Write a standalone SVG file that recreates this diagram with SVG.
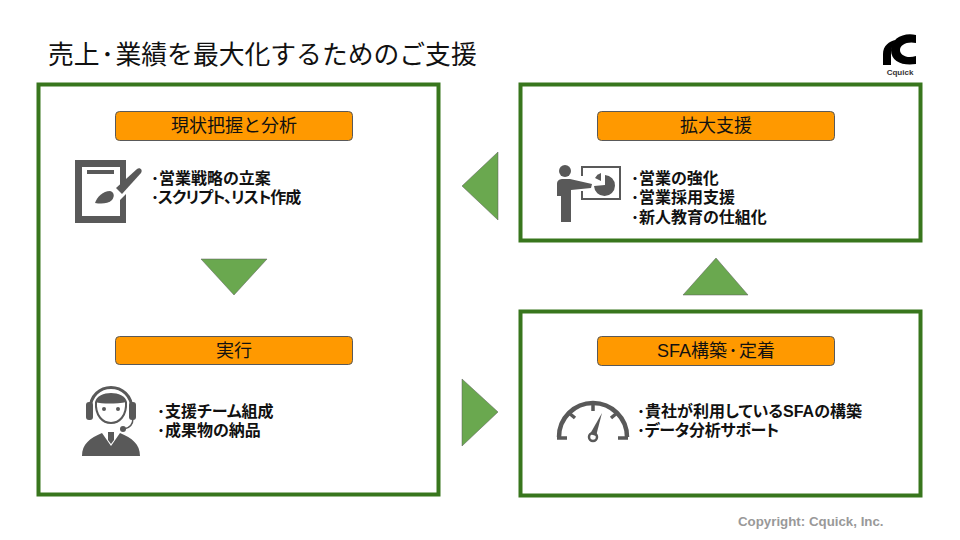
<svg xmlns="http://www.w3.org/2000/svg" width="960" height="540" viewBox="0 0 960 540">
<style>
text{font-family:"Liberation Sans","Noto Sans CJK JP",sans-serif;fill:#111}
.frame{fill:#fff;stroke:#38761d;stroke-width:4}
.hd{fill:#ff9900;stroke:#595959;stroke-width:1}
.hdt{font-size:18px;text-anchor:middle}
.b{font-size:16px;font-weight:700;font-feature-settings:"palt"}
.tri{fill:#6aa84f;stroke:#595959;stroke-width:.5}
.ic{fill:#595959}
.icl{fill:none;stroke:#595959}
</style>
<rect width="960" height="540" fill="#fff"/>
<text id="title" x="48" y="64" font-size="25.800">売上<tspan dx="1.500">･</tspan><tspan dx="1.500">業績を最大化するためのご支援</tspan></text>
<g id="logo">
<path d="M883 65V54C883 46 889 41 896 40C892 44 891 50 891 56V65Z" fill="#000"/>
<path d="M916 35V43C907 41 900 45 900 50C900 55 907 59 916 56V64C903 66 891 62 891 50C891 39 903 32 916 35Z" fill="#000"/>
<text x="900" y="75" font-size="8" font-weight="700" text-anchor="middle" style="fill:#333">Cquick</text>
</g>
<g id="frames">
<rect id="box-left" class="frame" x="38.500" y="84.500" width="400" height="410"/>
<rect id="box-top" class="frame" x="520.500" y="84.500" width="400" height="156"/>
<rect id="box-bottom" class="frame" x="520.500" y="311.500" width="400" height="184"/>
</g>
<g id="connectors">
<polygon class="tri" points="201,259 267,259 234,295"/>
<polygon class="tri" points="498,152 498,220 462,186"/>
<polygon class="tri" points="683,295 748,295 716,258"/>
<polygon class="tri" points="462,379 462,446 498,412"/>
</g>
<g id="node-analysis">
<rect class="hd" x="115.500" y="111.500" width="237" height="29" rx="4"/>
<text class="hdt" x="234" y="132">現状把握と分析</text>
<path class="ic" fill-rule="evenodd" d="M75 160H126V181L120 187V167H82V216H120V200L126 194V223H75Z"/>
<rect class="ic" x="87" y="170" width="27" height="4"/>
<path class="ic" d="M116 188L137 169C140 167 143 170 141 173L122 194Z"/>
<path class="ic" d="M95 203C97 197 103 191 110 191C114 192 115 196 112 200C108 204 101 204 95 203Z"/>
<text class="b" x="151" y="184">･営業戦略の立案</text>
<text class="b" x="151" y="203" letter-spacing="-1">･スクリプト、リスト作成</text>
</g>
<g id="node-execute">
<rect class="hd" x="115.500" y="336.500" width="237" height="28" rx="4"/>
<text class="hdt" x="234" y="357">実行</text>
<path class="icl" stroke-width="3" d="M90 410C90 380 132 380 132 410"/>
<rect class="ic" x="86" y="402" width="7" height="18" rx="3"/>
<rect class="ic" x="129" y="402" width="7" height="18" rx="3"/>
<path class="ic" d="M95 402C98 390 124 390 127 402C115 404 103 404 95 402Z"/>
<path class="icl" stroke-width="2" d="M96 402C94 430 128 430 126 402"/>
<circle class="ic" cx="104" cy="409" r="2"/>
<circle class="ic" cx="118" cy="409" r="2"/>
<path class="icl" stroke-width="1.500" d="M133 418C133 425 130 428 124 429"/>
<circle class="ic" cx="123" cy="429" r="3"/>
<path class="ic" d="M82 456C82 444 90 438 102 433L111 446L120 433C132 438 140 444 140 456Z"/>
<path class="ic" d="M108 432H114V440L111 444L108 440Z"/>
<text class="b" x="157" y="417">･支援チーム組成</text>
<text class="b" x="157" y="436">･成果物の納品</text>
</g>
<g id="node-expand">
<rect class="hd" x="597.500" y="111.500" width="237" height="29" rx="4"/>
<text class="hdt" x="716" y="132">拡大支援</text>
<circle class="ic" cx="565" cy="171" r="6"/>
<path class="ic" d="M557 184C557 180 560 179 563 179H570L592 184L591 188L571 190V222H561V196H557Z"/>
<path class="icl" stroke-width="2" d="M582 176V167H620V199H582V191"/>
<path class="ic" d="M605 175A10.500 10.500 0 1 1 594 186L605 185Z"/>
<path class="ic" d="M601 173A10 10 0 0 0 595 178L601 181Z"/>
<text class="b" x="631" y="184">･営業の強化</text>
<text class="b" x="631" y="203">･営業採用支援</text>
<text class="b" x="631" y="223">･新人教育の仕組化</text>
</g>
<g id="node-sfa">
<rect class="hd" x="597.500" y="336.500" width="237" height="29" rx="4"/>
<text class="hdt" x="716" y="357">SFA構築<tspan dx="1.500">･</tspan><tspan dx="1.500">定着</tspan></text>
<path class="icl" stroke-width="4.500" d="M559 437A34 34 0 0 1 627 437"/>
<path class="icl" stroke-width="3.500" d="M557 438H567M618 438H628M593 403V411M569 413L575 418M617 413L611 418"/>
<circle class="icl" stroke-width="2.500" cx="593" cy="437" r="4"/>
<path class="ic" d="M590 434L602 413L596 436Z"/>
<text class="b" x="637" y="417">･貴社が利用しているSFAの構築</text>
<text class="b" x="637" y="436" letter-spacing="-.3">･データ分析サポート</text>
</g>
<text id="copyright" x="738" y="526" font-size="13.300" font-weight="700" style="fill:#999">Copyright: Cquick, Inc.</text>
</svg>
